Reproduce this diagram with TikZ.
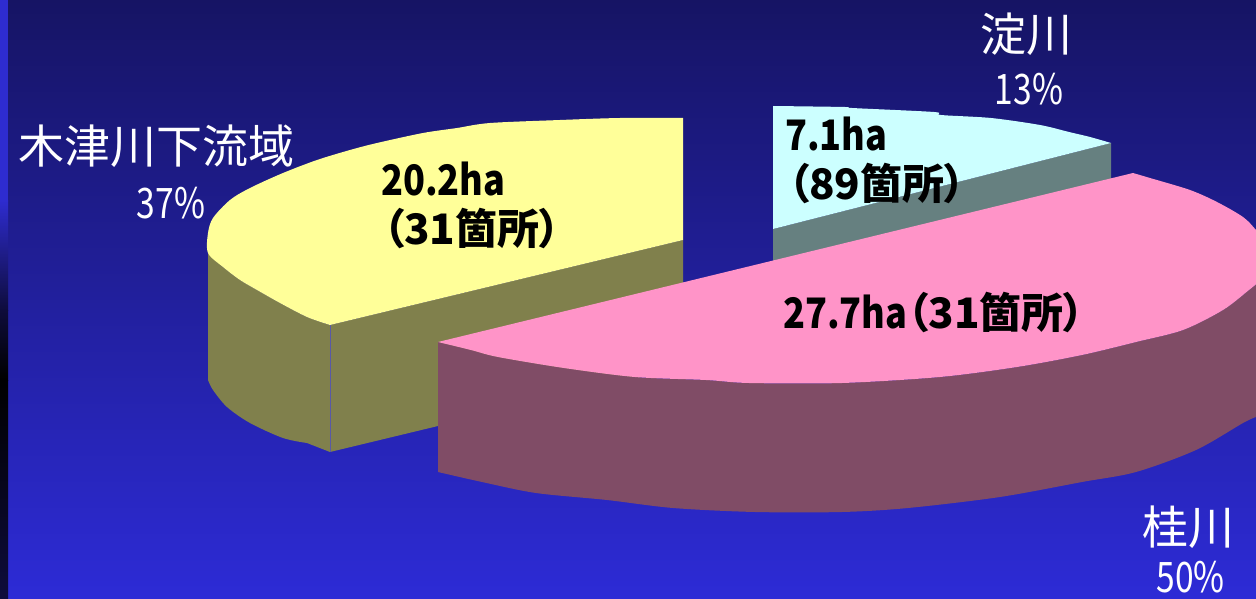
\documentclass[tikz,border=0pt]{standalone}
\usepackage{fontspec}
\newfontfamily\jp{Noto Sans CJK JP}[RawFeature=+palt]
\definecolor{bgtop}{RGB}{22,20,100}
\definecolor{bgbot}{RGB}{45,43,214}
\definecolor{stripblue}{RGB}{46,44,208}
\definecolor{stripdark}{RGB}{14,12,60}
\definecolor{ytop}{RGB}{255,255,153}
\definecolor{yside}{RGB}{128,128,76}
\definecolor{ctop}{RGB}{204,255,255}
\definecolor{cside}{RGB}{102,128,128}
\definecolor{ptop}{RGB}{255,148,200}
\definecolor{pside}{RGB}{128,76,102}
\newcommand{\narrowtxt}[1]{\scalebox{0.86}[1]{#1}}
\begin{document}
\begin{tikzpicture}[x=1pt,y=-1pt,
  wlabel/.style={text=white,font=\jp\fontsize{46}{50}\selectfont,inner sep=0pt,anchor=base},
  wpct/.style={text=white,font=\jp\fontsize{42}{46}\selectfont,inner sep=0pt,anchor=base},
  blabel/.style={text=black,font=\jp\bfseries\fontsize{42}{46}\selectfont,inner sep=0pt,anchor=base west}]
\useasboundingbox (0,0) rectangle (1256,599);
\clip (0,0) rectangle (1256,599);
% background
\shade[top color=bgtop,bottom color=bgbot] (0,0) rectangle (1256,599);
\shade[top color=stripblue,bottom color=stripdark] (0,200) rectangle (8,310);
\fill[stripblue] (0,0) rectangle (8,200);
\shade[top color=stripdark,bottom color=black] (0,310) rectangle (8,380);
\shade[top color=black,bottom color=stripdark] (0,380) rectangle (8,599);
% yellow slice
\fill[yside] (330,325) -- (683,240) -- (683,367) -- (330,452) -- cycle;
\fill[yside] plot[smooth,tension=0.5] coordinates {(208,253) (223,267) (240,280) (257,290) (280,303) (307,317) (330,325)}
  -- (330,452) -- plot[smooth,tension=0.5] coordinates {(307,443) (283,438) (250,423) (227,407) (213,390) (208,380)} -- cycle;
\draw[gray!70!blue,line width=0.8pt] (330,325) -- (330,452);
\fill[ytop] (683,240) -- (683,118) -- plot[smooth,tension=0.5] coordinates {(683,118) (620,118) (560,120) (490,123) (457,128) (423,133) (377,143) (350,150) (317,160) (283,173) (250,188) (230,200) (213,218) (208,233) (208,253) (223,267) (240,280) (257,290) (280,303) (307,317) (330,325)} -- cycle;
% cyan slice
\fill[cside] (773,229) -- (1111,143) -- (1111,271) -- (773,357) -- cycle;
\fill[ctop] (773,229) -- (773,106) -- plot[smooth,tension=0.5] coordinates {(773,106) (845,107) (852,108) (934,112) (941,115) (991,118) (1040,125) (1069,132) (1090,137) (1111,143)} -- cycle;
% pink slice
\fill[pside] plot[smooth,tension=0.5] coordinates {(438,342) (471,350) (498,357) (564,368) (635,377) (706,380) (749,383) (842,383) (940,377) (1017,367) (1082,355) (1136,342) (1183,330) (1223,310) (1249,290) (1266,276)}
  -- (1270,405) -- plot[smooth,tension=0.5] coordinates {(1256,417) (1243,423) (1196,450) (1136,472) (1082,482) (1000,497) (908,508) (842,512) (755,512) (673,508) (607,500) (536,493) (482,482) (438,472)} -- cycle;
\fill[ptop] (438,342) -- (1133,173) -- plot[smooth,tension=0.5] coordinates {(1133,173) (1150,178) (1190,190) (1217,202) (1243,217) (1256,230) (1272,250)}
  -- (1275,270) -- plot[smooth,tension=0.5] coordinates {(1266,276) (1249,290) (1223,310) (1183,330) (1136,342) (1082,355) (1017,367) (940,377) (842,383) (749,383) (706,380) (635,377) (564,368) (498,357) (471,350) (438,342)} -- cycle;
% white labels
\node[wlabel] (kizu) at (156.5,164) {木津川下流域};
\node[wpct] (kizup) at (171,218) {\scalebox{0.8}[1]{37\%}};
\node[wlabel] (yodo) at (1026.5,52) {淀川};
\node[wpct] (yodop) at (1029,105) {\scalebox{0.8}[1]{13\%}};
\node[wlabel] (katsura) at (1188.5,544) {桂川};
\node[wpct] (katsurap) at (1190.5,592) {\scalebox{0.8}[1]{50\%}};
% black labels
\node[blabel] (ya) at (381,195) {\narrowtxt{20.2ha}};
\node[blabel] (yb) at (383,244) {（31箇所）};
\node[blabel] (ca) at (785,150) {\narrowtxt{7.1ha}};
\node[blabel] (cb) at (788,200) {（89箇所）};
\node[blabel] (pa) at (783,328) {\narrowtxt{27.7ha}（31箇所）};
\end{tikzpicture}
\end{document}
